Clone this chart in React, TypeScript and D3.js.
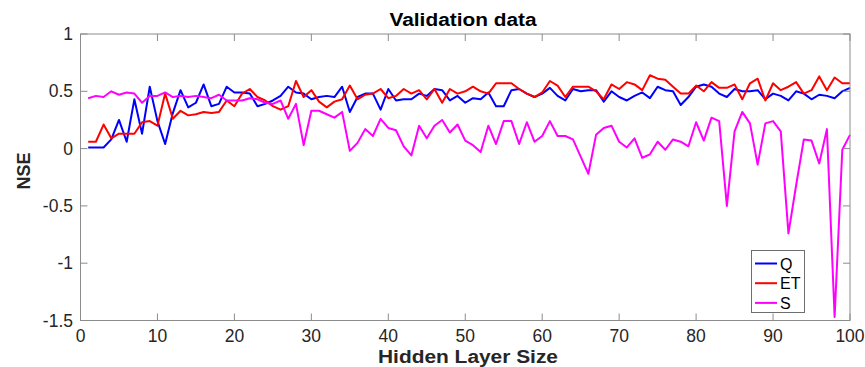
import React from "react";
import * as d3 from "d3";

// Hidden layer sizes 1..100
const hiddenSizes: number[] = d3.range(1, 101);

// NSE of the validation data for each hidden layer size
const nseQ: number[] = [
  0.01, 0.01, 0.01, 0.08, 0.25, 0.06, 0.43, 0.13, 0.54, 0.24,
  0.04, 0.31, 0.51, 0.36, 0.40, 0.56, 0.37, 0.39, 0.54, 0.49,
  0.49, 0.48, 0.37, 0.39, 0.42, 0.46, 0.54, 0.49, 0.48, 0.43,
  0.45, 0.46, 0.45, 0.54, 0.32, 0.45, 0.48, 0.48, 0.34, 0.52,
  0.42, 0.43, 0.43, 0.48, 0.46, 0.52, 0.51, 0.42, 0.46, 0.40,
  0.44, 0.43, 0.49, 0.37, 0.37, 0.51, 0.52, 0.48, 0.45, 0.48,
  0.53, 0.46, 0.42, 0.52, 0.50, 0.51, 0.51, 0.41, 0.50, 0.45,
  0.42, 0.46, 0.49, 0.44, 0.54, 0.51, 0.50, 0.38, 0.45, 0.54,
  0.56, 0.54, 0.48, 0.45, 0.52, 0.50, 0.50, 0.51, 0.43, 0.48,
  0.46, 0.42, 0.50, 0.48, 0.43, 0.47, 0.46, 0.44, 0.50, 0.53,
];

const nseET: number[] = [
  0.06, 0.06, 0.21, 0.09, 0.13, 0.13, 0.13, 0.23, 0.24, 0.20,
  0.48, 0.26, 0.33, 0.29, 0.30, 0.32, 0.31, 0.32, 0.42, 0.37,
  0.48, 0.52, 0.45, 0.42, 0.37, 0.34, 0.37, 0.59, 0.45, 0.51,
  0.41, 0.36, 0.41, 0.43, 0.55, 0.43, 0.47, 0.48, 0.52, 0.44,
  0.46, 0.52, 0.48, 0.51, 0.43, 0.52, 0.40, 0.52, 0.48, 0.50,
  0.54, 0.50, 0.48, 0.57, 0.57, 0.57, 0.52, 0.48, 0.45, 0.49,
  0.59, 0.55, 0.45, 0.54, 0.54, 0.54, 0.50, 0.43, 0.56, 0.52,
  0.58, 0.56, 0.51, 0.64, 0.61, 0.60, 0.54, 0.48, 0.48, 0.55,
  0.50, 0.58, 0.53, 0.53, 0.56, 0.43, 0.57, 0.61, 0.42, 0.57,
  0.51, 0.54, 0.58, 0.48, 0.51, 0.63, 0.51, 0.62, 0.57, 0.57,
];

const nseS: number[] = [
  0.44, 0.46, 0.45, 0.50, 0.47, 0.49, 0.48, 0.40, 0.46, 0.46,
  0.49, 0.45, 0.46, 0.45, 0.46, 0.45, 0.44, 0.47, 0.42, 0.42,
  0.42, 0.44, 0.43, 0.40, 0.39, 0.42, 0.26, 0.39, 0.03, 0.33,
  0.33, 0.30, 0.27, 0.32, -0.02, 0.05, 0.17, 0.11, 0.26, 0.18,
  0.16, 0.02, -0.06, 0.20, 0.09, 0.20, 0.25, 0.14, 0.21, 0.07,
  0.03, -0.03, 0.20, 0.04, 0.24, 0.24, 0.04, 0.23, 0.06, 0.11,
  0.24, 0.11, 0.11, 0.08, -0.07, -0.22, 0.12, 0.18, 0.20, 0.06,
  0.01, 0.09, -0.08, -0.05, 0.06, -0.01, 0.08, 0.06, 0.02, 0.23,
  0.07, 0.27, 0.24, -0.50, 0.15, 0.32, 0.22, -0.14, 0.22, 0.24,
  0.15, -0.74, -0.32, 0.08, 0.07, -0.13, 0.17, -1.47, -0.01, 0.12,
];

const seriesNames: string[] = ["Q", "ET", "S"];
const seriesColors: string[] = ["#0000ff", "#ff0000", "#ff00ff"];
const seriesValues: number[][] = [nseQ, nseET, nseS];

const xTicks: number[] = [0, 10, 20, 30, 40, 50, 60, 70, 80, 90, 100];
const yTicks: number[] = [1, 0.5, 0, -0.5, -1, -1.5];

const titleText = "Validation data";
const xLabelText = "Hidden Layer Size";
const yLabelText = "NSE";

const W = 865;
const H = 367;
const left = 80.5;
const right = 850;
const top = 34;
const bottom = 320.5;

const FONT = "'Liberation Sans', Arial, Helvetica, sans-serif";
const frameColor = "#8c8c8c";
const textColor = "#262626";

export default function App() {
  const x = d3.scaleLinear().domain([0, 100]).range([left, right]);
  const y = d3.scaleLinear().domain([-1.5, 1]).range([bottom, top]);

  const line = d3
    .line<[number, number]>()
    .x((d) => x(d[0]))
    .y((d) => y(d[1]));

  const tickLen = 7;

  return (
    <svg
      width={W}
      height={H}
      style={{ position: "absolute", left: 0, top: 0, background: "#fff" }}
      fontFamily={FONT}
    >
      <rect x={0} y={0} width={W} height={H} fill="#ffffff" />

      {/* title */}
      <text
        x={463}
        y={26}
        textAnchor="middle"
        fontSize={17.5}
        fontWeight="bold"
        fill="#000"
        textLength={147}
        lengthAdjust="spacingAndGlyphs"
      >
        {titleText}
      </text>

      {/* series */}
      <g>
        {seriesValues.map((vals, si) => (
          <path
            key={seriesNames[si]}
            d={line(hiddenSizes.map((h, i) => [h, vals[i]] as [number, number])) || ""}
            fill="none"
            stroke={seriesColors[si]}
            strokeWidth={2}
            strokeLinejoin="round"
          />
        ))}
      </g>

      {/* frame */}
      <rect
        x={left}
        y={top}
        width={right - left}
        height={bottom - top}
        fill="none"
        stroke={frameColor}
        strokeWidth={1}
      />

      {/* x ticks (bottom and top, inward) */}
      {xTicks.map((t) => (
        <g key={"xt" + t}>
          <line x1={x(t)} x2={x(t)} y1={bottom} y2={bottom - tickLen} stroke={frameColor} />
          <line x1={x(t)} x2={x(t)} y1={top} y2={top + tickLen} stroke={frameColor} />
          <text
            x={x(t)}
            y={342}
            textAnchor="middle"
            fontSize={17.5}
            fill={textColor}
          >
            {t}
          </text>
        </g>
      ))}

      {/* y ticks (left and right, inward) */}
      {yTicks.map((t) => (
        <g key={"yt" + t}>
          <line x1={left} x2={left + tickLen} y1={y(t)} y2={y(t)} stroke={frameColor} />
          <line x1={right} x2={right - tickLen} y1={y(t)} y2={y(t)} stroke={frameColor} />
          <text
            x={73}
            y={y(t) + 6}
            textAnchor="end"
            fontSize={17.5}
            fill={textColor}
          >
            {t}
          </text>
        </g>
      ))}

      {/* axis labels */}
      <text
        x={468}
        y={362.5}
        textAnchor="middle"
        fontSize={17.5}
        fontWeight="bold"
        fill={textColor}
        textLength={180}
        lengthAdjust="spacingAndGlyphs"
      >
        {xLabelText}
      </text>
      <text
        transform={`translate(30,171) rotate(-90)`}
        textAnchor="middle"
        fontSize={18}
        fontWeight="bold"
        fill={textColor}
      >
        {yLabelText}
      </text>

      {/* legend */}
      <g>
        <rect
          x={751.5}
          y={250.5}
          width={53}
          height={62}
          fill="#ffffff"
          stroke="#6e6e6e"
          strokeWidth={1}
        />
        {seriesNames.map((name, i) => {
          const ly = 263.5 + i * 19.7;
          return (
            <g key={"lg" + name}>
              <line x1={755} x2={777} y1={ly} y2={ly} stroke={seriesColors[i]} strokeWidth={2} />
              <text x={780} y={ly + 6} fontSize={16} fill="#000">
                {name}
              </text>
            </g>
          );
        })}
      </g>
    </svg>
  );
}
